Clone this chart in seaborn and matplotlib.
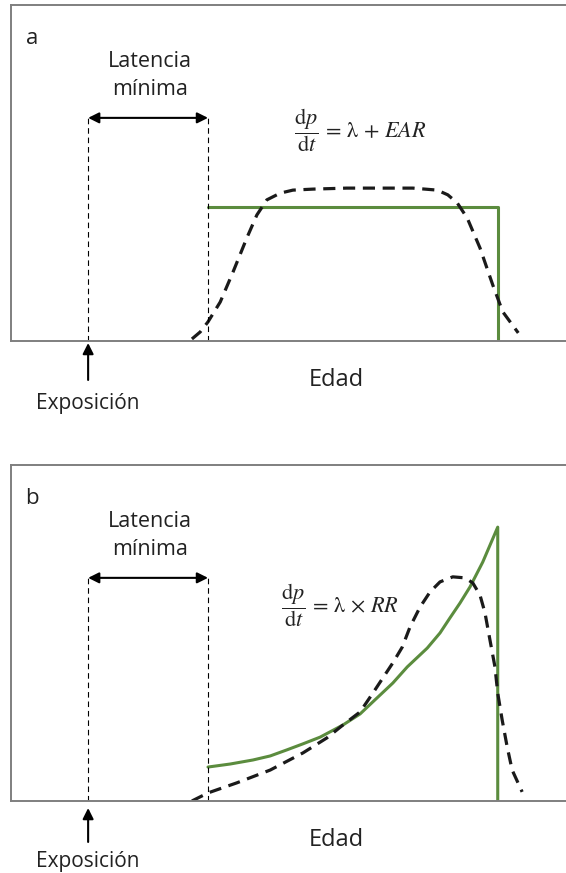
import numpy as np
import pandas as pd
import matplotlib
matplotlib.use("Agg")
import matplotlib.pyplot as plt
import seaborn as sns

# Panel a: excess absolute risk (constant after minimum latency)
exposure_age = 13.9
latency_end = 35.5
cutoff_age = 87.7
ear_level = 0.40

ear_x = [latency_end, cutoff_age, cutoff_age]
ear_y = [ear_level, ear_level, 0.0]

obs_a_x = [32.6, 34.1, 35.5, 37.7, 40.0, 42.5, 44.3, 46.1, 48.5, 50.8, 54.4, 60.5,
           72.4, 76.8, 78.7, 80.4, 82.2, 84.5, 86.8, 88.6, 91.4]
obs_a_y = [0.006, 0.027, 0.057, 0.116, 0.205, 0.307, 0.375, 0.420, 0.440, 0.449, 0.452,
           0.455, 0.455, 0.449, 0.435, 0.411, 0.366, 0.277, 0.167, 0.087, 0.024]

# Panel b: relative risk (multiplicative on baseline)
rr_x = [35.5, 39.5, 43.6, 46.7, 49.7, 52.6, 55.7, 59.8, 62.9, 65.2, 68.8, 71.4, 75.0,
        77.3, 79.1, 80.9, 82.7, 85.0, 87.7, 87.7]
rr_y = [0.101, 0.110, 0.122, 0.134, 0.152, 0.170, 0.190, 0.226, 0.259, 0.295, 0.351,
        0.399, 0.455, 0.500, 0.545, 0.589, 0.637, 0.711, 0.815, 0.0]

obs_b_x = [32.6, 35.5, 40.7, 46.7, 52.6, 56.9, 59.8, 62.9, 65.2, 67.0, 68.8, 70.5,
           71.9, 73.7, 75.5, 77.3, 79.6, 81.8, 83.2, 84.5, 85.4, 86.3, 87.2, 87.7,
           88.5, 89.4, 90.3, 92.1]
obs_b_y = [0.0, 0.024, 0.054, 0.092, 0.143, 0.1875, 0.226, 0.265, 0.321, 0.366, 0.411,
           0.458, 0.518, 0.577, 0.622, 0.652, 0.667, 0.664, 0.649, 0.613, 0.560, 0.479,
           0.399, 0.321, 0.241, 0.161, 0.092, 0.027]

panels = [
    ("a", ear_x, ear_y, obs_a_x, obs_a_y,
     r"$\dfrac{\mathrm{d}p}{\mathrm{d}t}\,=\,\mathrm{\lambda}\,+\,EAR$", 62.9, 0.628),
    ("b", rr_x, rr_y, obs_b_x, obs_b_y,
     r"$\dfrac{\mathrm{d}p}{\mathrm{d}t}\,=\,\mathrm{\lambda}\,\times\,RR$", 59.2, 0.583),
]

sns.set_style("white")
plt.rcParams["font.family"] = ["Open Sans", "DejaVu Sans"]
plt.rcParams["mathtext.fontset"] = "stix"

green = "#5b8c3e"
spine_col = "#7f7f7f"
txt = "#222222"

fig = plt.figure(figsize=(5.66, 8.73), dpi=100)
bottoms = [0.6094, 0.0825]

for (lab, mx, my, ox, oy, formula, fx, fy), bottom in zip(panels, bottoms):
    ax = fig.add_axes([0.0194, bottom, 0.9806, 0.3849])
    ax.set_xlim(0, 100)
    ax.set_ylim(0, 1)
    ax.set_xticks([])
    ax.set_yticks([])
    for s in ["left", "top", "bottom"]:
        ax.spines[s].set_color(spine_col)
        ax.spines[s].set_linewidth(1.4)
    ax.spines["right"].set_visible(False)

    # model curve (green) and observed curve (dashed)
    sns.lineplot(x=mx, y=my, ax=ax, color=green, lw=2.2, sort=False, estimator=None)
    line = sns.lineplot(x=ox, y=oy, ax=ax, color="#1a1a1a", lw=2.3, sort=False, estimator=None)
    line.lines[-1].set_dashes((3.8, 2.4))
    line.lines[-1].set_dash_joinstyle("round")

    # minimum latency markers
    for xv in [exposure_age, latency_end]:
        ax.plot([xv, xv], [0, 0.664], color="black", lw=0.8, dashes=(5, 3.5))
    ax.annotate("", xy=(latency_end, 0.664), xytext=(exposure_age, 0.664),
                arrowprops=dict(arrowstyle="<|-|>", color="black", lw=1.5, mutation_scale=16,
                                shrinkA=0, shrinkB=0))
    ax.text(25.0, 0.833, "Latencia", ha="center", va="center", fontsize=15.5, color=txt)
    ax.text(25.0, 0.747, "mínima", ha="center", va="center", fontsize=15.5, color=txt)
    ax.text(3.8, 0.90, lab, ha="center", va="center", fontsize=16, color=txt)
    ax.text(fx, fy, formula, ha="center", va="center", fontsize=16, color=txt)

    # below-axis labels
    tr = ax.get_xaxis_transform()
    if lab == "a":
        tip, tail, ty = -0.006, -0.116, -0.185
    else:
        tip, tail, ty = -0.021, -0.122, -0.179
    ax.annotate("", xy=(exposure_age, tip), xytext=(exposure_age, tail), xycoords=tr, textcoords=tr,
                arrowprops=dict(arrowstyle="-|>", color="black", lw=1.5, mutation_scale=16,
                                shrinkA=0, shrinkB=0), annotation_clip=False)
    ax.text(exposure_age, ty, "Exposición", transform=tr, ha="center", va="center",
            fontsize=15, color=txt, clip_on=False)
    ax.text(58.6, -0.116, "Edad", transform=tr, ha="center", va="center",
            fontsize=17, color=txt, clip_on=False)

fig.savefig("out.png", dpi=100)
